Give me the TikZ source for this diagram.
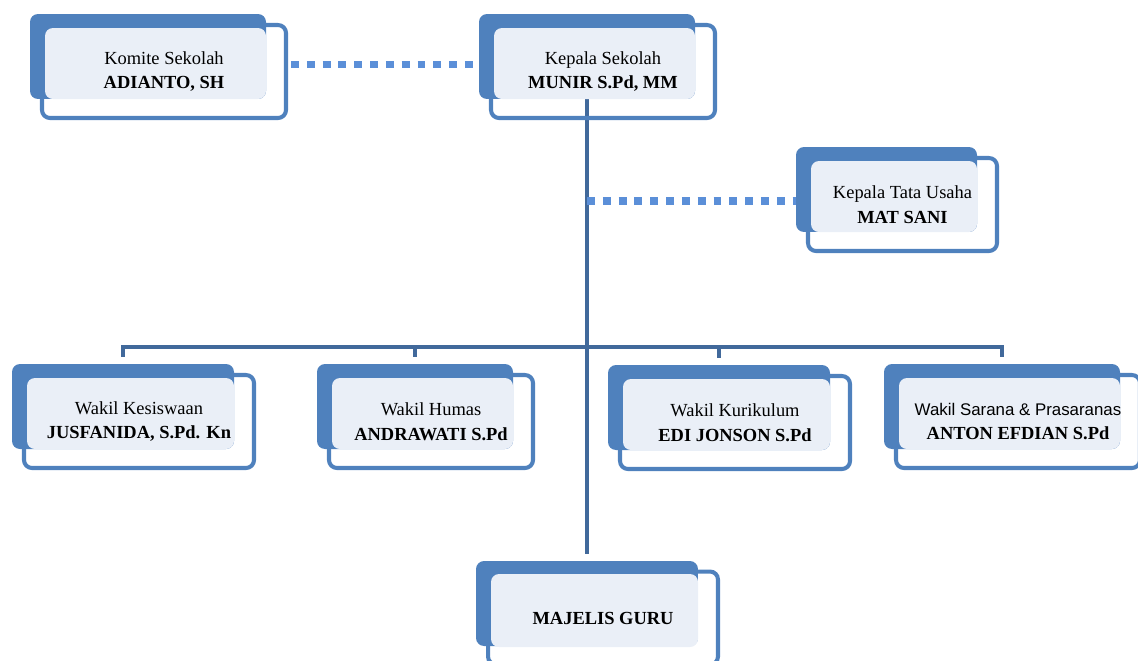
\documentclass[tikz,border=0pt]{standalone}
\usepackage{fontspec}
\setmainfont{Liberation Serif}
\newfontfamily\sansfont{Liberation Sans}
\usetikzlibrary{backgrounds}
\definecolor{backblue}{HTML}{4F81BD}
\definecolor{lightfill}{HTML}{EAEFF7}
\definecolor{linkblue}{HTML}{41699B}
\definecolor{dotblue}{HTML}{5B8FD8}

\begin{document}
\begin{tikzpicture}[x=0.02cm,y=-0.02cm]
        \tikzstyle{back} = [fill=backblue,rounded corners=0.16cm,inner sep=0pt,minimum height=1.7cm]
        \tikzstyle{frame} = [draw=backblue,line width=2.3pt,rounded corners=0.16cm,inner sep=0pt,
          minimum height=1.86cm,align=center,font=\fontsize{10.5}{14}\selectfont]
        \tikzstyle{link} = [draw=linkblue,line width=2.3pt]
        \tikzstyle{dotlink} = [draw=dotblue,line width=4.5pt,dash pattern=on 4.5pt off 4.5pt]

        \clip (0,0) rectangle (1138,660);

        % boxes: name / left / top / width of the blue back
        \foreach \n/\x/\y/\w/\a/\b in {komite/30/14/236/Komite Sekolah/{ADIANTO, SH},
          kepala/479/14/216/Kepala Sekolah/{MUNIR S.Pd, MM},
          ktu/796/147/181/Kepala Tata Usaha/MAT SANI,
          wks/12/364/222/Wakil Kesiswaan/{JUSFANIDA, S.Pd. Kn},
          wh/317/364/196/Wakil Humas/ANDRAWATI S.Pd,
          wk/608/365/222/Wakil Kurikulum/EDI JONSON S.Pd,
          wsp/884/364/236/{\sansfont\fontsize{9.6}{14}\selectfont Wakil Sarana \& Prasaranas}/ANTON EFDIAN S.Pd} {
          \node[back,minimum width=\w*0.02cm] (\n) at (\x+\w/2,\y+42.5) {};
          \fill[lightfill,rounded corners=0.16cm] (\x+15,\y+14) rectangle (\x+\w,\y+85);
          \node[frame,minimum width=\w*0.02cm+0.16cm] (\n-o) at (\x+\w/2+16,\y+57.5) {\a\\\textbf{\b}};
        }

        \node[back,minimum width=4.44cm] (guru) at (587,603.5) {};
        \fill[lightfill,rounded corners=0.16cm] (491,574) rectangle (698,647);
        \node[frame,minimum width=4.6cm] (guru-o) at (603,618) {\textbf{MAJELIS GURU}};

        \begin{scope}[on background layer]
          \draw[link] (kepala.south) -- ([yshift=0.14cm]guru.north);
          \coordinate (bar) at (0,347);
          \draw[link,line cap=rect] (wks.north |- bar) -- (wsp.north |- bar);
          \foreach \b in {wks,wh,wk,wsp} {
            \draw[link] (\b.north |- bar) -- ([yshift=0.14cm]\b.north);
          }
          \coordinate (k1) at ([yshift=0.14cm]komite-o.east);
          \draw[dotlink,shorten <=0.06cm] (k1) -- (k1 -| kepala.west);
          \coordinate (t1) at ([yshift=0.07cm]ktu-o.west);
          \draw[dotlink] (t1 -| kepala.south) -- (t1 -| ktu.west);
        \end{scope}
\end{tikzpicture}
\end{document}
